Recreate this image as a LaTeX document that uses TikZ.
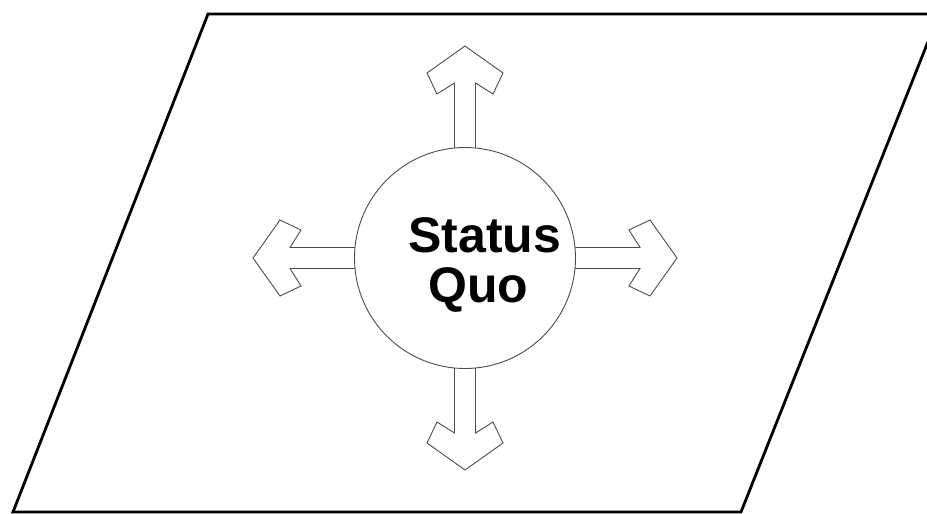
\documentclass[tikz,border=0pt]{standalone}
\usepackage{fontspec}
\setmainfont{Liberation Sans}
\begin{document}
\begin{tikzpicture}[x=1pt,y=-1pt,
  frame/.style={line width=2.8pt, line join=miter, draw=black},
  arrowshape/.style={draw=black!70, line width=0.9pt, fill=white, line join=miter},
  hub/.style={circle, draw=black!70, line width=0.9pt, fill=white, minimum size=221pt, inner sep=0pt},
  lbl/.style={font=\fontsize{50}{50}\selectfont\bfseries, anchor=base west, inner sep=0pt}]
\clip (0,0) rectangle (927,514);
\fill[white] (0,0) rectangle (927,514);
\draw[frame] (13,512) -- (741,512) -- (939,14) -- (208,14) -- cycle;
\foreach \a in {0,90,180,270}{
  \draw[arrowshape, shift={(465,258)}, rotate=\a] (100,10.5) -- (175,10.5) -- (164,28) -- (185,38) -- (212,0) -- (185,-38) -- (164,-28) -- (175,-10.5) -- (100,-10.5) -- cycle;
}
\node[hub] (sq) at (465,258) {};
\node[lbl] (status) at (408,252) {Status};
\node[lbl] (quo) at (428,302) {Quo};
\end{tikzpicture}
\end{document}
